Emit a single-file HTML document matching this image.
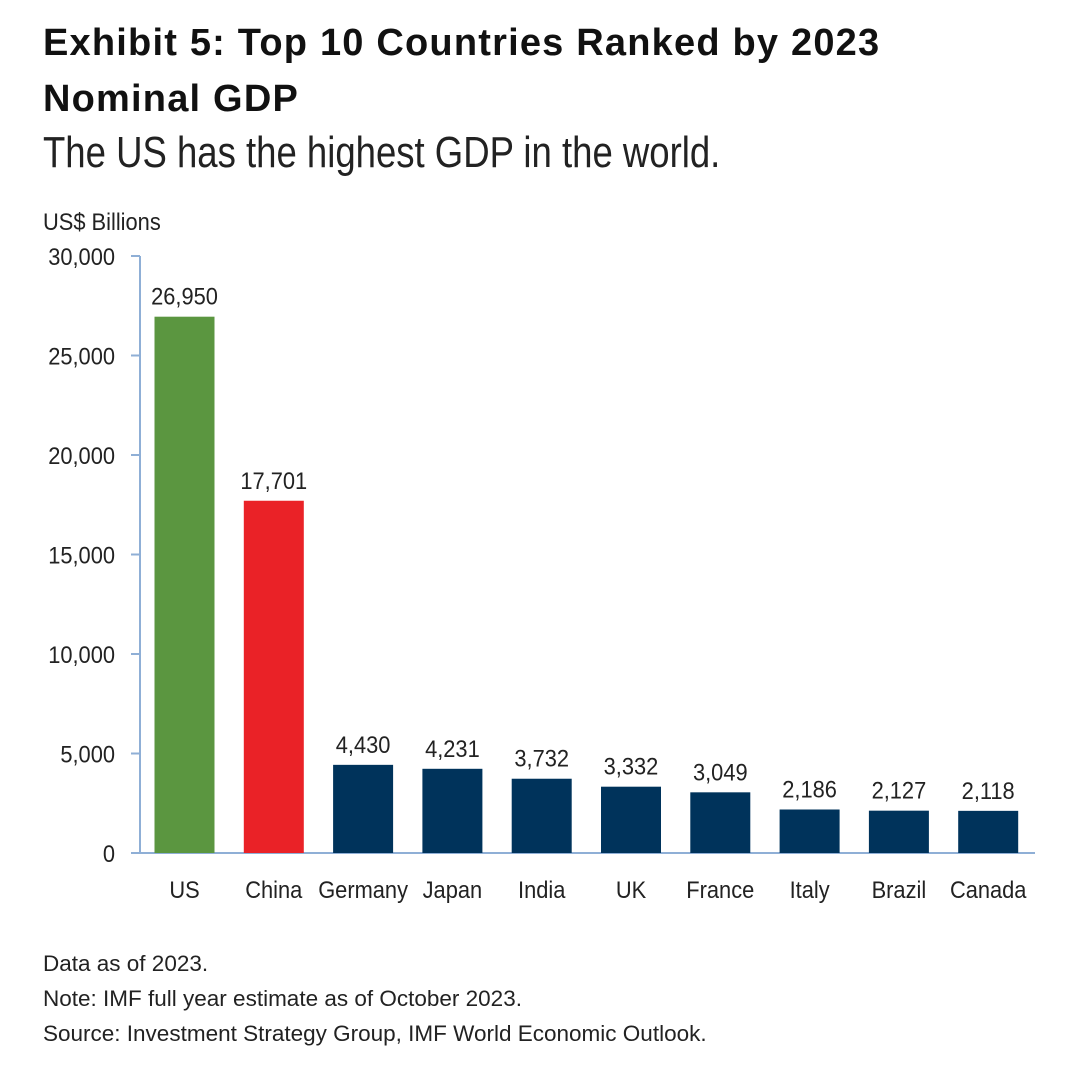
<!DOCTYPE html>
<html><head><meta charset="utf-8"><style>
body{margin:0;background:#fff;width:1080px;height:1067px;overflow:hidden;font-family:"Liberation Sans",sans-serif;color:#222}
.t{position:absolute;left:43px;font-weight:bold;font-size:38px;letter-spacing:1.2px;color:#111;line-height:56px;top:15px;white-space:nowrap}
.s{position:absolute;left:43px;top:128px;font-size:44px;color:#222;transform:scaleX(0.83);transform-origin:left top;white-space:nowrap}
.n{position:absolute;left:43px;font-size:22.5px;color:#222;white-space:nowrap}
</style></head><body>
<div class="t">Exhibit 5: Top 10 Countries Ranked by 2023<br>Nominal GDP</div>
<div class="s">The US has the highest GDP in the world.</div>
<svg id="c" width="1080" height="1067" style="position:absolute;left:0;top:0">
<text x="43" y="230" font-size="24" fill="#222">US$ Billions</text>
</svg>
<div class="n" style="top:951px">Data as of 2023.</div>
<div class="n" style="top:986px">Note: IMF full year estimate as of October 2023.</div>
<div class="n" style="top:1021px">Source: Investment Strategy Group, IMF World Economic Outlook.</div>
<script>
const categories=["US","China","Germany","Japan","India","UK","France","Italy","Brazil","Canada"];
const values=[26950,17701,4430,4231,3732,3332,3049,2186,2127,2118];
const labels=["26,950","17,701","4,430","4,231","3,732","3,332","3,049","2,186","2,127","2,118"];
const ticks=[0,5000,10000,15000,20000,25000,30000];
const tickLabels=["0","5,000","10,000","15,000","20,000","25,000","30,000"];
const colors=["#5b9640","#ea2227","#00335b","#00335b","#00335b","#00335b","#00335b","#00335b","#00335b","#00335b"];
const svg=document.getElementById('c'),NS="http://www.w3.org/2000/svg";
const y=v=>853-v*(853-256)/30000;
const x0=140,step=89.3,first=154.5,bw=60;
function mk(t,a,txt){const e=document.createElementNS(NS,t);for(const k in a)e.setAttribute(k,a[k]);if(txt!=null)e.textContent=txt;svg.appendChild(e);return e;}
const ax=mk('line',{x1:x0,x2:x0,y1:y(30000),y2:y(0),stroke:'#8fafd6','stroke-width':2});


const bx=mk('line',{x1:x0,x2:1035,y1:y(0),y2:y(0),stroke:'#8fafd6','stroke-width':2});


ticks.forEach((t,i)=>{
 const l=mk('line',{x1:x0-9,x2:x0,y1:y(t),y2:y(t),stroke:'#8fafd6','stroke-width':2});
 
 
 const tx=mk('text',{x:115,y:y(t)+9,'text-anchor':'end','font-size':24,fill:'#222'},tickLabels[i]);
 
 
});
categories.forEach((c,i)=>{
 const bxl=first+i*step;
 const r=mk('rect',{x:bxl,y:y(values[i]),width:bw,height:y(0)-y(values[i]),fill:colors[i]});
 
 
 const v=mk('text',{x:bxl+bw/2,y:y(values[i])-12,'text-anchor':'middle','font-size':24,fill:'#222'},labels[i]);
 
 
 const cl=mk('text',{x:bxl+bw/2,y:898,'text-anchor':'middle','font-size':24,fill:'#222'},c);
 
 
});
svg.querySelectorAll('text').forEach(t=>{const w=t.getComputedTextLength();t.setAttribute('textLength',w*0.91);t.setAttribute('lengthAdjust','spacingAndGlyphs');});
</script>
</body></html>
